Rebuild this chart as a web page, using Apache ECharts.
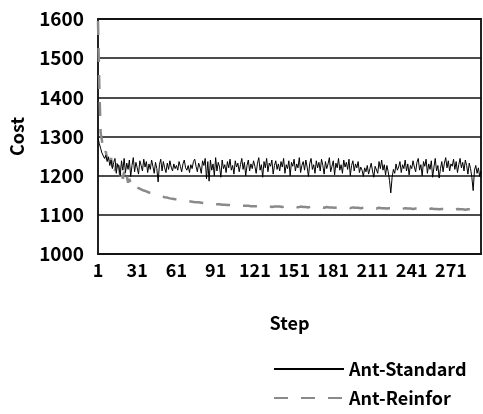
<!DOCTYPE html>
<html><head><meta charset="utf-8">
<script src="https://cdn.jsdelivr.net/npm/echarts@6/dist/echarts.min.js"></script>
<style>html,body{margin:0;padding:0;background:#fff}#c{width:483px;height:414px}</style>
</head><body><div id="c"></div>
<script>
var steps = [];
for (var i = 1; i <= 294; i++) steps.push(String(i));

var antStandard = [
1296,1282,1270,1258,1262,1244,1252,1236,1248,1226,
1240,1218,1234,1244,1206,1230,1222,1200,1238,1214,
1244,1208,1232,1216,1240,1198,1226,1246,1210,1234,
1220,1204,1238,1226,1212,1242,1222,1236,1208,1230,
1216,1240,1224,1206,1234,1218,1184,1228,1242,1212,
1236,1220,1208,1232,1216,1238,1222,1212,1230,1218,
1226,1214,1236,1224,1210,1230,1240,1220,1214,1226,
1208,1228,1218,1236,1242,1224,1210,1232,1222,1206,
1238,1226,1244,1192,1236,1186,1240,1214,1230,1200,
1246,1212,1234,1222,1196,1240,1218,1228,1208,1236,
1220,1242,1214,1226,1204,1238,1222,1232,1210,1228,
1244,1216,1234,1200,1226,1240,1212,1230,1218,1238,
1224,1206,1232,1246,1214,1228,1196,1236,1220,1244,
1210,1232,1224,1240,1204,1226,1238,1216,1230,1212,
1236,1222,1244,1206,1228,1218,1238,1200,1234,1224,
1242,1212,1230,1220,1246,1208,1226,1236,1214,1240,
1222,1198,1232,1244,1216,1228,1206,1238,1220,1234,
1212,1242,1226,1204,1236,1218,1230,1246,1210,1224,
1238,1202,1232,1220,1244,1214,1228,1206,1240,1222,
1234,1216,1242,1200,1226,1238,1212,1230,1220,1236,
1208,1222,1214,1198,1220,1210,1226,1204,1218,1232,
1212,1196,1224,1228,1206,1236,1218,1240,1214,1228,
1202,1226,1210,1188,1156,1196,1216,1206,1230,1214,
1222,1236,1208,1228,1218,1240,1212,1230,1202,1226,
1218,1238,1222,1210,1234,1244,1214,1228,1200,1236,
1224,1242,1206,1230,1216,1238,1196,1222,1244,1212,
1226,1194,1218,1236,1210,1232,1246,1220,1238,1212,
1230,1224,1242,1216,1236,1208,1228,1244,1220,1234,
1212,1240,1226,1204,1232,1218,1196,1162,1214,1226,
1206,1220,1198,1212
];

var antReinfor = [
1595,1430,1310,1290,1268,1255,1262,1240,1252,1230,
1245,1222,1238,1212,1232,1205,1226,1198,1218,1192,
1210,1186,1200,1182,1192,1180,1186,1176,1180,1172,
1174,1168,1170,1165,1166,1162,1163,1160,1160,1157,
1157,1155,1155,1153,1152,1151,1150,1149,1148,1147,
1146,1145,1144,1144,1143,1142,1142,1141,1140,1140,
1139,1139,1138,1138,1137,1137,1136,1136,1135,1135,
1134,1134,1133,1133,1133,1132,1132,1132,1131,1131,
1131,1130,1130,1130,1129,1129,1129,1128,1128,1128,
1127,1127,1127,1127,1126,1126,1126,1126,1125,1125,
1125,1125,1125,1124,1124,1124,1124,1124,1124,1123,
1123,1123,1123,1123,1123,1123,1123,1122,1122,1122,
1122,1122,1122,1122,1122,1122,1122,1121,1121,1121,
1121,1122,1121,1120,1121,1121,1122,1121,1120,1121,
1121,1120,1121,1122,1120,1121,1120,1120,1121,1120,
1120,1121,1120,1119,1120,1121,1120,1120,1119,1120,
1120,1119,1120,1121,1119,1120,1119,1119,1120,1119,
1119,1120,1119,1118,1119,1120,1119,1119,1118,1119,
1119,1118,1119,1119,1118,1119,1118,1118,1119,1118,
1118,1119,1118,1117,1118,1119,1118,1118,1117,1118,
1118,1117,1118,1118,1117,1118,1117,1117,1118,1117,
1117,1118,1117,1116,1117,1118,1117,1117,1116,1117,
1117,1116,1117,1117,1116,1117,1116,1116,1117,1116,
1116,1117,1116,1115,1116,1117,1116,1116,1115,1116,
1116,1115,1116,1116,1115,1116,1115,1115,1116,1115,
1115,1116,1115,1114,1115,1116,1115,1115,1114,1115,
1115,1114,1115,1115,1114,1115,1114,1114,1115,1114,
1114,1115,1114,1113,1114,1115,1114,1114,1113,1114,
1114,1113,1114,1114,1113,1114,1113,1113,1114,1113,
1113,1114,1113,1113
];

var yTicks = {min: 1000, max: 1600, interval: 100};
var FONT = '"Noto Sans CJK JP", "DejaVu Sans", sans-serif';

var chart = echarts.init(document.getElementById('c'));
chart.setOption({
  animation: false,
  backgroundColor: '#fff',
  grid: {left: 97, right: 2, top: 19, bottom: 160, show: true, borderColor: '#222', borderWidth: 2, backgroundColor: 'transparent'},
  legend: {
    orient: 'vertical', left: 268, top: 355, itemGap: 11, itemWidth: 70, itemHeight: 14,
    itemStyle: {opacity: 0},
    textStyle: {fontFamily: FONT, fontSize: 18, fontWeight: 'bold', color: '#000'},
    data: ['Ant-Standard', 'Ant-Reinfor']
  },
  xAxis: {
    type: 'category', data: steps, boundaryGap: false,
    name: 'Step', nameLocation: 'middle', nameGap: 60,
    nameTextStyle: {fontFamily: FONT, fontSize: 18, fontWeight: 'bold', color: '#000'},
    axisLine: {show: false}, axisTick: {show: false},
    axisLabel: {interval: 29, margin: 7, fontFamily: FONT, fontSize: 18, fontWeight: 'bold', color: '#000'},
    splitLine: {show: false}
  },
  yAxis: {
    type: 'value', min: yTicks.min, max: yTicks.max, interval: yTicks.interval,
    name: 'Cost', nameLocation: 'middle', nameGap: 72, nameRotate: 90,
    nameTextStyle: {fontFamily: FONT, fontSize: 18, fontWeight: 'bold', color: '#000'},
    axisLine: {show: false}, axisTick: {show: false},
    axisLabel: {margin: 14, fontFamily: FONT, fontSize: 19, fontWeight: 'bold', color: '#000',
      formatter: function (v) { return String(v); }},
    splitLine: {show: true, lineStyle: {color: '#111', width: 1.5}}
  },
  series: [
    {name: 'Ant-Standard', type: 'line', data: antStandard, symbol: 'none', z: 3,
     lineStyle: {color: '#000', width: 1}, itemStyle: {color: '#000'}},
    {name: 'Ant-Reinfor', type: 'line', data: antReinfor, symbol: 'none', z: 2,
     lineStyle: {color: '#8a8a8a', width: 2.5, type: [14, 13]}, itemStyle: {color: '#8a8a8a'}}
  ]
});
</script></body></html>
